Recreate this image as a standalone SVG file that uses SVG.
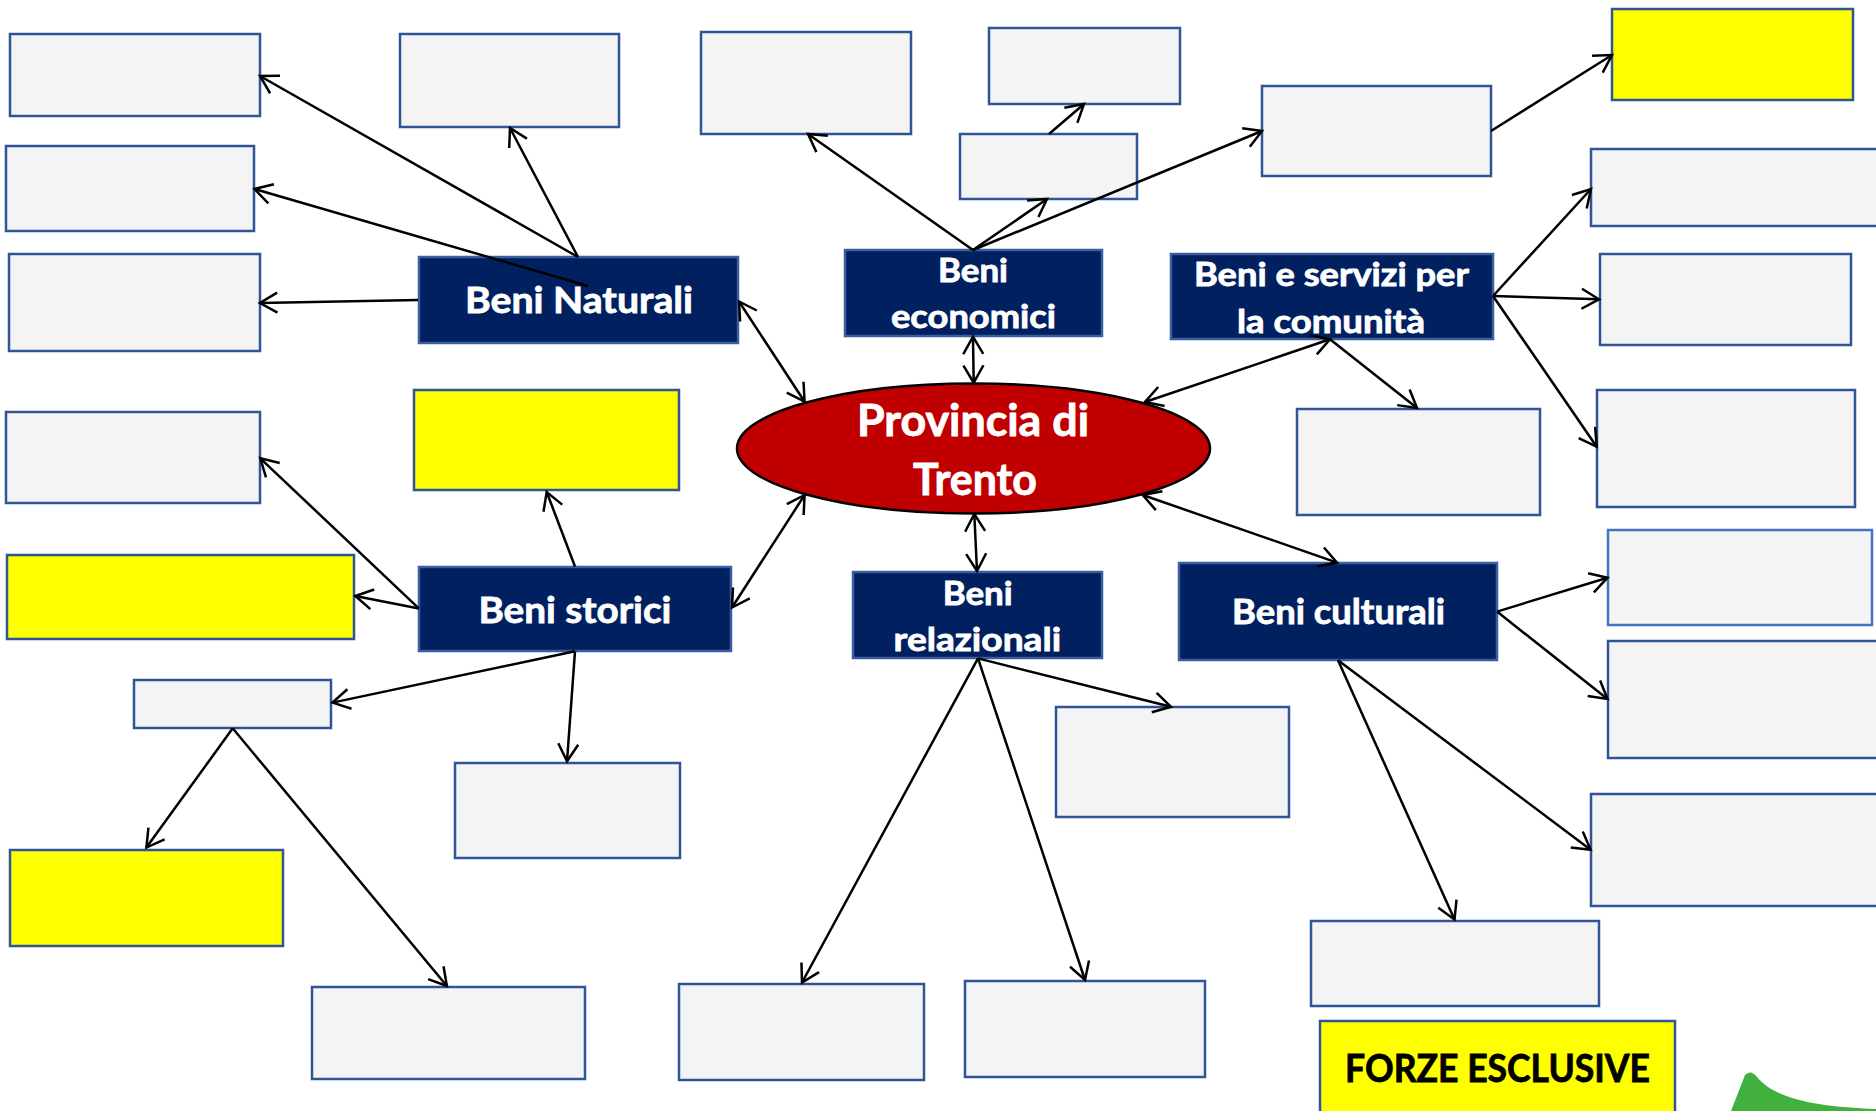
<svg xmlns="http://www.w3.org/2000/svg" width="1876" height="1111" viewBox="0 0 1876 1111">
  <style>
    .box { fill: #F4F4F4; stroke: #2F5597; stroke-width: 2.5; }
    .box.light { stroke: #4472C4; }
    .yellow { fill: #FFFF00; stroke: #2F5597; stroke-width: 2.5; }
    .navy { fill: #002060; stroke: #3B5E9E; stroke-width: 2.5; }
    .hub { fill: #C00000; stroke: #000000; stroke-width: 2.5; }
    .lbl { font-family: Lato, "Open Sans", "Liberation Sans", sans-serif; font-weight: bold; fill: #FFFFFF; stroke: #FFFFFF; stroke-width: 0.8; }
    .lbl.dark { fill: #000000; stroke: #000000; }
    .conn line { stroke: #000000; stroke-width: 2.5; fill: none; marker-end: url(#head); }
    .conn line.both { marker-start: url(#head); }
  </style>
  <defs>
    <marker id="head" viewBox="0 0 24 23" markerWidth="24" markerHeight="23" refX="20" refY="11.5" orient="auto-start-reverse" markerUnits="userSpaceOnUse">
      <path d="M2.7,1.5 L20,11.5 L2.7,21.5" fill="none" stroke="#000000" stroke-width="2.5"/>
    </marker>
  </defs>

  <rect width="1876" height="1111" fill="#FFFFFF"/>

  <!-- central node -->
  <g id="provincia-di-trento">
    <ellipse class="hub" cx="973.5" cy="448.5" rx="236.5" ry="65"/>
    <text class="lbl" x="857" y="436" font-size="43" textLength="232" lengthAdjust="spacingAndGlyphs">Provincia di</text>
    <text class="lbl" x="913" y="495" font-size="43" textLength="124" lengthAdjust="spacingAndGlyphs">Trento</text>
  </g>

  <!-- category nodes -->
  <g id="beni-naturali">
    <rect class="navy" x="419" y="257" width="319" height="86"/>
    <text class="lbl" x="465" y="313.3" font-size="37" textLength="228" lengthAdjust="spacingAndGlyphs">Beni Naturali</text>
  </g>
  <g id="beni-economici">
    <rect class="navy" x="845" y="250" width="257" height="86"/>
    <text class="lbl" x="938" y="281.7" font-size="32" textLength="70" lengthAdjust="spacingAndGlyphs">Beni</text>
    <text class="lbl" x="891" y="328.3" font-size="32" textLength="165" lengthAdjust="spacingAndGlyphs">economici</text>
  </g>
  <g id="beni-servizi-comunita">
    <rect class="navy" x="1171" y="254" width="322" height="85"/>
    <text class="lbl" x="1194" y="285.7" font-size="32" textLength="275" lengthAdjust="spacingAndGlyphs">Beni e servizi per</text>
    <text class="lbl" x="1237" y="333" font-size="32" textLength="188" lengthAdjust="spacingAndGlyphs">la comunità</text>
  </g>
  <g id="beni-storici">
    <rect class="navy" x="419" y="567" width="312" height="84"/>
    <text class="lbl" x="478.4" y="623" font-size="37" textLength="193" lengthAdjust="spacingAndGlyphs">Beni storici</text>
  </g>
  <g id="beni-relazionali">
    <rect class="navy" x="853" y="572" width="249" height="86"/>
    <text class="lbl" x="942.7" y="604.8" font-size="33" textLength="70" lengthAdjust="spacingAndGlyphs">Beni</text>
    <text class="lbl" x="893.6" y="651" font-size="33" textLength="167.5" lengthAdjust="spacingAndGlyphs">relazionali</text>
  </g>
  <g id="beni-culturali">
    <rect class="navy" x="1179" y="563" width="318" height="97"/>
    <text class="lbl" x="1232" y="624" font-size="33.5" textLength="213" lengthAdjust="spacingAndGlyphs">Beni culturali</text>
  </g>

  <!-- empty answer boxes -->
  <g id="naturali-1"><rect class="box" x="10" y="34" width="250" height="82"/></g>
  <g id="naturali-2"><rect class="box" x="400" y="34" width="219" height="93"/></g>
  <g id="naturali-3"><rect class="box" x="6" y="146" width="248" height="85"/></g>
  <g id="naturali-4"><rect class="box" x="9" y="254" width="251" height="97"/></g>
  <g id="economici-1"><rect class="box" x="701" y="32" width="210" height="102"/></g>
  <g id="economici-2"><rect class="box" x="989" y="28" width="191" height="76"/></g>
  <g id="economici-3"><rect class="box" x="960" y="134" width="177" height="65"/></g>
  <g id="economici-4"><rect class="box" x="1262" y="86" width="229" height="90"/></g>
  <g id="economici-5"><rect class="yellow" x="1612" y="9" width="241" height="91"/></g>
  <g id="comunita-1"><rect class="box" x="1591" y="149" width="300" height="77"/></g>
  <g id="comunita-2"><rect class="box" x="1600" y="254" width="251" height="91"/></g>
  <g id="comunita-3"><rect class="box" x="1597" y="390" width="258" height="117"/></g>
  <g id="comunita-4"><rect class="box" x="1297" y="409" width="243" height="106"/></g>
  <g id="storici-1"><rect class="box" x="6" y="412" width="254" height="91"/></g>
  <g id="storici-2"><rect class="yellow" x="414" y="390" width="265" height="100"/></g>
  <g id="storici-3"><rect class="yellow" x="7" y="555" width="347" height="84"/></g>
  <g id="storici-4"><rect class="box" x="134" y="680" width="197" height="48"/></g>
  <g id="storici-5"><rect class="box" x="455" y="763" width="225" height="95"/></g>
  <g id="storici-6"><rect class="yellow" x="10" y="850" width="273" height="96"/></g>
  <g id="storici-7"><rect class="box" x="312" y="987" width="273" height="92"/></g>
  <g id="relazionali-1"><rect class="box" x="679" y="984" width="245" height="96"/></g>
  <g id="relazionali-2"><rect class="box" x="965" y="981" width="240" height="96"/></g>
  <g id="relazionali-3"><rect class="box" x="1056" y="707" width="233" height="110"/></g>
  <g id="culturali-1"><rect class="box light" x="1608" y="530" width="264" height="95"/></g>
  <g id="culturali-2"><rect class="box" x="1608" y="641" width="280" height="117"/></g>
  <g id="culturali-3"><rect class="box" x="1591" y="794" width="300" height="112"/></g>
  <g id="culturali-4"><rect class="box" x="1311" y="921" width="288" height="85"/></g>

  <g id="forze-esclusive">
    <rect class="yellow" x="1320" y="1021" width="355" height="110"/>
    <text class="lbl dark" x="1345" y="1081.6" font-size="38" textLength="305" lengthAdjust="spacingAndGlyphs">FORZE ESCLUSIVE</text>
  </g>

  <!-- green corner ornament -->
  <path d="M1731,1111 L1745,1075 Q1751,1069 1757,1077 C1776,1100 1820,1107 1876,1109 L1876,1111 Z" fill="#41B03D"/>

  <!-- connectors -->
  <g id="connectors" class="conn">
    <line x1="578" y1="257" x2="260" y2="76"/>
    <line x1="578" y1="257" x2="510" y2="128"/>
    <line x1="588" y1="286" x2="254.5" y2="189"/>
    <line x1="418" y1="300" x2="260" y2="303"/>
    <line class="both" x1="739" y1="301.5" x2="804.6" y2="401.7"/>

    <line x1="973" y1="250" x2="808" y2="134"/>
    <line x1="973" y1="250" x2="1047" y2="199"/>
    <line x1="973" y1="250" x2="1262" y2="131"/>
    <line x1="1049" y1="134" x2="1084" y2="104"/>
    <line x1="1491" y1="131" x2="1612" y2="55"/>
    <line class="both" x1="973" y1="336.7" x2="973.7" y2="382.7"/>

    <line class="both" x1="1330" y1="339.3" x2="1145" y2="402"/>
    <line x1="1330" y1="339.3" x2="1417" y2="408"/>
    <line x1="1493" y1="296" x2="1591" y2="189"/>
    <line x1="1493" y1="296" x2="1599" y2="299.3"/>
    <line x1="1493" y1="296" x2="1596.7" y2="446.7"/>

    <line class="both" x1="804.6" y1="495" x2="732" y2="607.5"/>
    <line class="both" x1="974.3" y1="514" x2="977" y2="571"/>
    <line class="both" x1="1142.8" y1="495" x2="1337" y2="562.6"/>

    <line x1="575" y1="566.5" x2="546.7" y2="492"/>
    <line x1="418.8" y1="608.4" x2="260.3" y2="458.3"/>
    <line x1="418.8" y1="608.4" x2="355.3" y2="596"/>
    <line x1="575" y1="651.3" x2="332.5" y2="702.6"/>
    <line x1="575" y1="651.3" x2="567" y2="761.3"/>
    <line x1="232.7" y1="728.3" x2="146.4" y2="847.6"/>
    <line x1="232.7" y1="728.3" x2="446.9" y2="986"/>

    <line x1="978" y1="658.4" x2="802" y2="982.5"/>
    <line x1="978" y1="658.4" x2="1085" y2="980"/>
    <line x1="978" y1="658.4" x2="1171" y2="706.8"/>

    <line x1="1497" y1="611.6" x2="1607.5" y2="577.7"/>
    <line x1="1497" y1="611.6" x2="1607.5" y2="699"/>
    <line x1="1338" y1="660.2" x2="1590.6" y2="849.8"/>
    <line x1="1338" y1="660.2" x2="1454.5" y2="919.5"/>
  </g>
</svg>
